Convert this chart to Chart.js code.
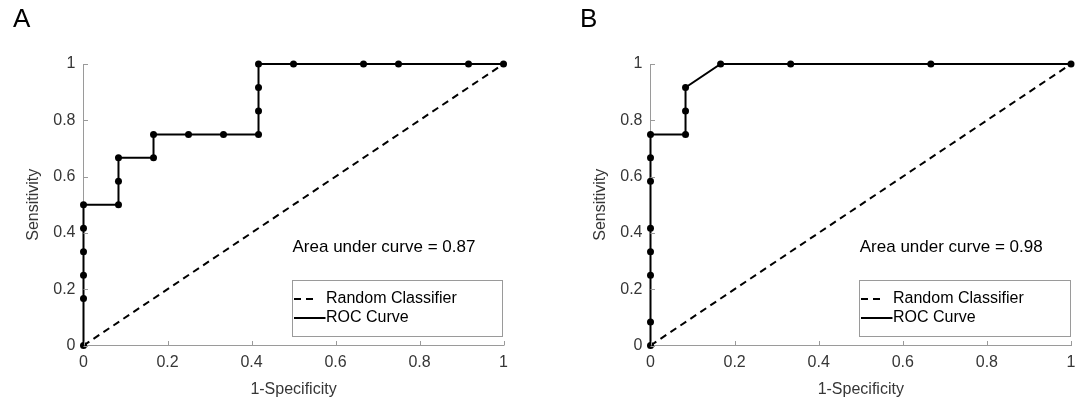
<!DOCTYPE html>
<html lang="en">
<head>
<meta charset="utf-8"/>
<title>ROC curves</title>
<script src="https://cdn.jsdelivr.net/npm/chart.js"></script>
<style>
    html, body { margin: 0; padding: 0; background: #fff; }
    #wrap { position: relative; width: 1075px; height: 407px; }
    canvas { position: absolute; top: 0; }
    #chartA { left: 0; }
    #chartB { left: 537px; }
</style>
</head>
<body>
<div id="wrap">
    <canvas id="chartA" width="537" height="407"></canvas>
    <canvas id="chartB" width="538" height="407"></canvas>
</div>
<script>
    // panel A (12 positives / 12 negatives -> steps of 1/12)
    var fprA = [0, 0, 0, 0, 0, 0, 0.0833, 0.0833, 0.0833, 0.1667, 0.1667, 0.25, 0.3333, 0.4167, 0.4167, 0.4167, 0.4167, 0.5, 0.6667, 0.75, 0.9167, 1];
    var tprA = [0, 0.1667, 0.25, 0.3333, 0.4167, 0.5, 0.5, 0.5833, 0.6667, 0.6667, 0.75, 0.75, 0.75, 0.75, 0.8333, 0.9167, 1, 1, 1, 1, 1, 1];
    var aucA = 0.87;

    // panel B
    var fprB = [0, 0, 0, 0, 0, 0, 0, 0, 0.0833, 0.0833, 0.0833, 0.1667, 0.3333, 0.6667, 1];
    var tprB = [0, 0.0833, 0.25, 0.3333, 0.4167, 0.5833, 0.6667, 0.75, 0.75, 0.8333, 0.9167, 1, 1, 1, 1];
    var aucB = 0.98;

    // random classifier diagonal
    var randX = [0, 1];
    var randY = [0, 1];

    var seriesNames = ['Random Classifier', 'ROC Curve'];
    var tickValues = [0, 0.2, 0.4, 0.6, 0.8, 1];
    var tickLabels = ['0', '0.2', '0.4', '0.6', '0.8', '1'];

    var FONT = 'Liberation Sans, Arial, Helvetica, sans-serif';
    var axisColor = '#9a9a9a';
    var textColor = '#363636';

    function pts(xs, ys) {
        return xs.map(function (x, i) { return { x: x, y: ys[i] }; });
    }

    // MATLAB style ticks pointing into the axes
    var inTicks = {
        id: 'inTicks',
        afterDraw: function (chart) {
            var ctx = chart.ctx, a = chart.chartArea;
            var sx = chart.scales.x, sy = chart.scales.y;
            ctx.save();
            ctx.strokeStyle = axisColor;
            ctx.lineWidth = 1;
            sx.ticks.forEach(function (t) {
                var px = Math.round(sx.getPixelForValue(t.value)) + 0.5;
                ctx.beginPath(); ctx.moveTo(px, a.bottom); ctx.lineTo(px, a.bottom - 4.5); ctx.stroke();
            });
            sy.ticks.forEach(function (t) {
                var py = Math.round(sy.getPixelForValue(t.value)) + 0.5;
                ctx.beginPath(); ctx.moveTo(a.left, py); ctx.lineTo(a.left + 4.5, py); ctx.stroke();
            });
            ctx.restore();
        }
    };

    // panel letter, AUC text and the boxed legend
    var deco = {
        id: 'deco',
        afterDraw: function (chart, args, opts) {
            var ctx = chart.ctx, a = chart.chartArea, sx = chart.scales.x;
            ctx.save();
            ctx.fillStyle = '#000';
            ctx.textBaseline = 'alphabetic';
            ctx.font = '26px ' + FONT;
            ctx.fillText(opts.letter, a.left - 70.5, 27);

            var x0 = sx.getPixelForValue(0.5);
            ctx.textBaseline = 'middle';
            ctx.font = '17px ' + FONT;
            ctx.fillText('Area under curve = ' + opts.auc.toFixed(2), x0 - 1, 247);

            // legend box
            var bl = Math.round(x0 - 1.5) + 0.5, br = Math.round(a.right - 1.5) + 0.5;
            var bt = 280.5, bb = 336.5;
            ctx.fillStyle = '#fff';
            ctx.fillRect(bl, bt, br - bl, bb - bt);
            ctx.strokeStyle = axisColor;
            ctx.lineWidth = 1;
            ctx.strokeRect(bl, bt, br - bl, bb - bt);

            var ds = chart.data.datasets;
            var rows = [299, 318];
            ctx.font = '16px ' + FONT;
            ds.forEach(function (d, i) {
                var y = rows[i];
                ctx.strokeStyle = '#000';
                ctx.lineWidth = d.borderWidth;
                ctx.setLineDash(d.borderDash || []);
                ctx.beginPath();
                ctx.moveTo(bl + 1.5, y);
                ctx.lineTo(bl + (d.borderDash ? 25 : 33), y);
                ctx.stroke();
                ctx.setLineDash([]);
                ctx.fillStyle = '#000';
                ctx.fillText(d.label, bl + 33.5, y);
            });
            ctx.restore();
        }
    };

    function makeChart(id, fpr, tpr, auc, letter, padLeft, padRight) {
        return new Chart(document.getElementById(id), {
            type: 'line',
            data: {
                datasets: [
                    {
                        label: seriesNames[0],
                        data: pts(randX, randY),
                        borderColor: '#000',
                        borderWidth: 2,
                        borderDash: [7, 5],
                        pointRadius: 0,
                        fill: false,
                        order: 2
                    },
                    {
                        label: seriesNames[1],
                        data: pts(fpr, tpr),
                        borderColor: '#000',
                        borderWidth: 2,
                        pointRadius: 3.5,
                        pointBackgroundColor: '#000',
                        pointBorderWidth: 0,
                        fill: false,
                        order: 1
                    }
                ]
            },
            options: {
                responsive: false,
                animation: false,
                clip: false,
                layout: { padding: { left: padLeft, right: padRight, top: 64, bottom: 0 } },
                plugins: {
                    legend: { display: false },
                    tooltip: { enabled: false },
                    deco: { letter: letter, auc: auc }
                },
                scales: {
                    x: {
                        type: 'linear',
                        min: 0,
                        max: 1,
                        afterBuildTicks: function (s) { s.ticks = tickValues.map(function (v) { return { value: v }; }); },
                        afterFit: function (s) { s.height = 61.5; s.paddingLeft = 0; s.paddingRight = 0; },
                        ticks: {
                            callback: function (v, i) { return tickLabels[i]; },
                            padding: 7,
                            maxRotation: 0,
                            color: textColor,
                            font: { family: FONT, size: 16 }
                        },
                        grid: { display: false, drawTicks: false },
                        border: { display: true, color: axisColor, width: 1 },
                        title: {
                            display: true,
                            text: '1-Specificity',
                            color: textColor,
                            font: { family: FONT, size: 16 },
                            padding: { top: 0, bottom: 8 }
                        }
                    },
                    y: {
                        type: 'linear',
                        min: 0,
                        max: 1,
                        afterBuildTicks: function (s) { s.ticks = tickValues.map(function (v) { return { value: v }; }); },
                        afterFit: function (s) { s.width = 83.5; s.paddingTop = 0; s.paddingBottom = 0; },
                        ticks: {
                            callback: function (v, i) { return tickLabels[i]; },
                            padding: 8,
                            color: textColor,
                            font: { family: FONT, size: 16 }
                        },
                        grid: { display: false, drawTicks: false },
                        border: { display: true, color: axisColor, width: 1 },
                        title: {
                            display: true,
                            text: 'Sensitivity',
                            color: textColor,
                            font: { family: FONT, size: 16 },
                            padding: { top: 24, bottom: 0 }
                        }
                    }
                }
            },
            plugins: [inTicks, deco]
        });
    }

    var chartA = makeChart('chartA', fprA, tprA, aucA, 'A', 0, 33.5);
    var chartB = makeChart('chartB', fprB, tprB, aucB, 'B', 30, 4);
</script>
</body>
</html>
